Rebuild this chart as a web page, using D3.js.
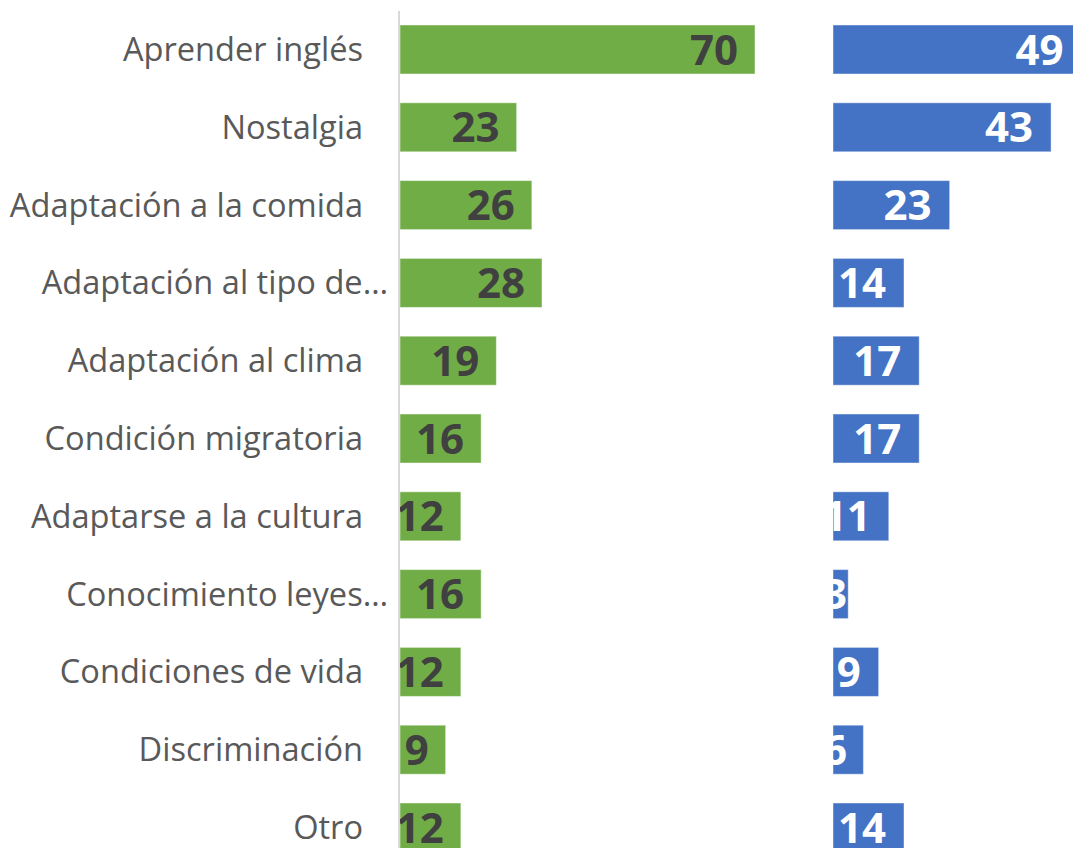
<!DOCTYPE html>
<html>
<head>
<meta charset="utf-8">
<script src="https://cdn.jsdelivr.net/npm/d3@7"></script>
<style>
  body { margin: 0; background: #fff; }
  svg { display: block; }
</style>
</head>
<body>
<script>
var width = 1073;
var height = 848;

// categories and the two series
var categories = [
  "Aprender inglés",
  "Nostalgia",
  "Adaptación a la comida",
  "Adaptación al tipo de…",
  "Adaptación al clima",
  "Condición migratoria",
  "Adaptarse a la cultura",
  "Conocimiento leyes…",
  "Condiciones de vida",
  "Discriminación",
  "Otro"
];
var greenValues = [70, 23, 26, 28, 19, 16, 12, 16, 12, 9, 12];
var blueValues = [49, 43, 23, 14, 17, 17, 11, 3, 9, 6, 14];

var svg = d3.select("body").append("svg")
  .attr("width", width)
  .attr("height", height);

var y = d3.scaleBand()
  .domain(categories)
  .range([-3.8, 880.8])
  .padding(0.37);

// same units on both panels
var xLeft = d3.scaleLinear().domain([0, 70]).range([400, 755]);
var xRight = d3.scaleLinear().domain([0, 70]).range([833, 1188]);

var defs = svg.append("defs");
defs.append("clipPath").attr("id", "clipL")
  .append("rect").attr("x", 395).attr("y", 0).attr("width", 420).attr("height", height);
defs.append("clipPath").attr("id", "clipR")
  .append("rect").attr("x", 833).attr("y", 0).attr("width", 300).attr("height", height);

// category labels
svg.append("g").selectAll("text")
  .data(categories)
  .enter()
  .append("text")
  .attr("x", function (d) { return d.slice(-1) == "…" ? 388 : 363; })
  .attr("y", function (d) { return y(d) + y.bandwidth() / 2; })
  .attr("dy", "0.35em")
  .attr("text-anchor", "end")
  .style("font-family", "'Open Sans', sans-serif")
  .style("font-size", "32.6px")
  .style("fill", "#595959")
  .text(function (d) { return d; });

// left panel
var left = svg.append("g").attr("clip-path", "url(#clipL)");
left.selectAll("rect")
  .data(greenValues)
  .enter()
  .append("rect")
  .attr("x", xLeft(0))
  .attr("y", function (d, i) { return y(categories[i]); })
  .attr("width", function (d) { return xLeft(d) - xLeft(0); })
  .attr("height", y.bandwidth())
  .style("fill", "#70ad47")
  .style("stroke", "rgba(255,255,255,0.45)")
  .style("stroke-width", 1);
left.selectAll("text")
  .data(greenValues)
  .enter()
  .append("text")
  .attr("x", function (d) { return xLeft(d) - 17; })
  .attr("y", function (d, i) { return y(categories[i]) + y.bandwidth() / 2; })
  .attr("dy", "0.36em")
  .attr("text-anchor", "end")
  .style("font-family", "'Open Sans', sans-serif")
  .style("font-weight", "700")
  .style("font-size", "42px")
  .style("fill", "#404040")
  .text(function (d) { return d; });

// axis line
svg.append("line")
  .attr("x1", 399).attr("x2", 399)
  .attr("y1", 11).attr("y2", height)
  .style("stroke", "#d9d9d9")
  .style("stroke-width", 2);

// right panel
var right = svg.append("g").attr("clip-path", "url(#clipR)");
right.selectAll("rect")
  .data(blueValues)
  .enter()
  .append("rect")
  .attr("x", xRight(0))
  .attr("y", function (d, i) { return y(categories[i]); })
  .attr("width", function (d) { return xRight(d) - xRight(0); })
  .attr("height", y.bandwidth())
  .style("fill", "#4472c4")
  .style("stroke", "rgba(255,255,255,0.45)")
  .style("stroke-width", 1);
right.selectAll("text")
  .data(blueValues)
  .enter()
  .append("text")
  .attr("x", function (d) { return Math.max(xRight(d) - 18, xRight(0) + 14); })
  .attr("y", function (d, i) { return y(categories[i]) + y.bandwidth() / 2; })
  .attr("dy", "0.36em")
  .attr("text-anchor", "end")
  .style("font-family", "'Open Sans', sans-serif")
  .style("font-weight", "700")
  .style("font-size", "42px")
  .style("fill", "#ffffff")
  .text(function (d) { return d; });
</script>
</body>
</html>
